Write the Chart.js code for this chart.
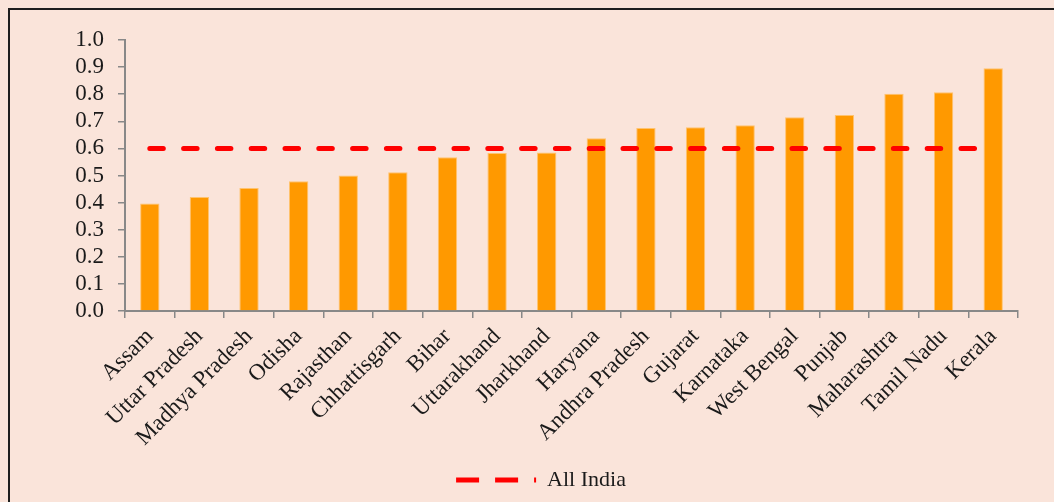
<!DOCTYPE html>
<html>
<head>
<meta charset="utf-8">
<script src="https://cdn.jsdelivr.net/npm/chart.js@4/dist/chart.umd.min.js"></script>
<style>
  html, body { margin: 0; padding: 0; overflow: hidden; background: #fae4da; }
  #frame { position: absolute; left: 8px; top: 8px; width: 2000px; height: 2000px;
           border-left: 2px solid #1e1e1e; border-top: 2px solid #1e1e1e; }
  #wrap { position: absolute; left: 0; top: 0; width: 1054px; height: 502px; }
</style>
</head>
<body>
<div id="frame"></div>
<div id="wrap"><canvas id="chart" width="1054" height="502"></canvas></div>
<script>
// States, sorted by value
const states = ['Assam', 'Uttar Pradesh', 'Madhya Pradesh', 'Odisha', 'Rajasthan', 'Chhattisgarh',
  'Bihar', 'Uttarakhand', 'Jharkhand', 'Haryana', 'Andhra Pradesh', 'Gujarat', 'Karnataka',
  'West Bengal', 'Punjab', 'Maharashtra', 'Tamil Nadu', 'Kerala'];
const stateValues = [0.397, 0.421, 0.454, 0.479, 0.500, 0.512, 0.567, 0.583, 0.585,
  0.637, 0.675, 0.678, 0.685, 0.715, 0.723, 0.802, 0.807, 0.896];
const allIndiaLabel = 'All India';
const allIndiaValue = 0.6;
const yTicks = [0, 0.1, 0.2, 0.3, 0.4, 0.5, 0.6, 0.7, 0.8, 0.9, 1.0];

const serif = "'Liberation Serif', 'DejaVu Serif', serif";
const textColor = '#1a1a1a';
const axisColor = '#888888';

const ctx = document.getElementById('chart').getContext('2d');
new Chart(ctx, {
  type: 'bar',
  data: {
    labels: states,
    datasets: [
      {
        type: 'line',
        label: allIndiaLabel,
        data: states.map(() => allIndiaValue),
        borderColor: '#ff0000',
        backgroundColor: '#ff0000',
        borderWidth: 5,
        borderDash: [13.5, 20.3],
        borderCapStyle: 'round',
        pointRadius: 0,
        fill: false,
        order: 0
      },
      {
        label: 'States',
        data: stateValues,
        backgroundColor: '#ff9900',
        borderColor: '#ffc36e',
        borderWidth: 1,
        barPercentage: 0.39,
        categoryPercentage: 1.0,
        order: 1
      }
    ]
  },
  options: {
    responsive: false,
    animation: false,
    layout: { padding: { top: 40, left: 64, right: 36, bottom: 1 } },
    plugins: {
      tooltip: { enabled: false },
      legend: {
        position: 'bottom',
        labels: {
          usePointStyle: true,
          pointStyle: 'line',
          pointStyleWidth: 80,
          padding: 10,
          color: textColor,
          font: { family: serif, size: 22 },
          filter: item => item.text === allIndiaLabel,
          generateLabels: chart => Chart.defaults.plugins.legend.labels.generateLabels(chart).map(item => {
            item.lineDash = [23, 16];
            item.lineCap = 'butt';
            item.lineWidth = 5;
            return item;
          })
        }
      }
    },
    scales: {
      x: {
        afterFit: scale => { scale.height = 148; },
        border: { color: axisColor, width: 2 },
        grid: { offset: true, drawOnChartArea: false, tickLength: 7, color: axisColor, lineWidth: 1.5 },
        ticks: {
          autoSkip: false,
          minRotation: 45,
          maxRotation: 45,
          padding: 5,
          color: textColor,
          font: { family: serif, size: 23 }
        }
      },
      y: {
        min: 0,
        max: 1,
        afterFit: scale => { scale.width = 61; },
        afterBuildTicks: scale => { scale.ticks = yTicks.map(v => ({ value: v })); },
        border: { color: axisColor, width: 2 },
        grid: { drawOnChartArea: false, tickLength: 7, color: axisColor, lineWidth: 1.5 },
        ticks: {
          autoSkip: false,
          padding: 14,
          color: textColor,
          font: { family: serif, size: 23 },
          callback: v => v.toFixed(1)
        }
      }
    }
  }
});
</script>
</body>
</html>
